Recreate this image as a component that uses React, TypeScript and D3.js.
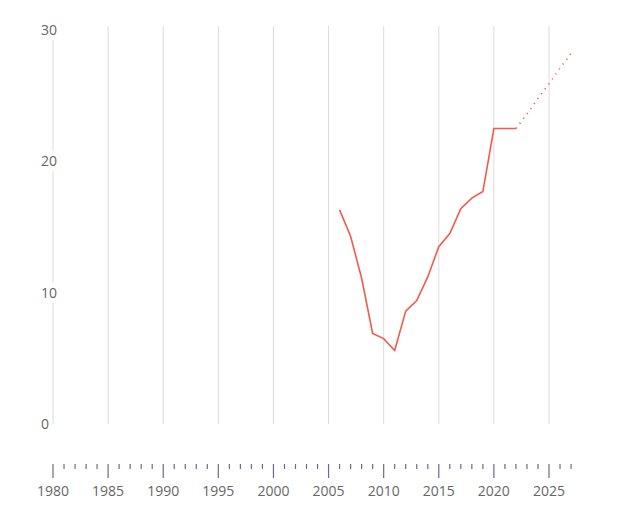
import React from "react";
import * as d3 from "d3";

const years = [2006, 2007, 2008, 2009, 2010, 2011, 2012, 2013, 2014, 2015, 2016, 2017, 2018, 2019, 2020, 2021, 2022];
const values = [16.3, 14.3, 11.1, 6.9, 6.5, 5.6, 8.6, 9.4, 11.2, 13.5, 14.5, 16.4, 17.2, 17.7, 22.5, 22.5, 22.5];
const projYears = [2022, 2023, 2024, 2025, 2026, 2027];
const projValues = [22.5, 23.6, 24.8, 25.9, 27.1, 28.2];
const yTicks = [0, 10, 20, 30];
const xLabelYears = [1980, 1985, 1990, 1995, 2000, 2005, 2010, 2015, 2020, 2025];

export default function App() {
  const W = 643, H = 508;
  const x = d3.scaleLinear().domain([1980, 2025]).range([53, 549]);
  const y = d3.scaleLinear().domain([0, 30]).range([424, 30]);
  const line = d3.line<[number, number]>().x(d => x(d[0])).y(d => y(d[1]));
  const actual = years.map((yr, i) => [yr, values[i]] as [number, number]);
  const proj = projYears.map((yr, i) => [yr, projValues[i]] as [number, number]);
  const allYears = d3.range(1980, 2028);
  const font = "'Open Sans', sans-serif";
  return (
    <svg width={W} height={H} style={{ position: "absolute", left: 0, top: 0 }}>
      {xLabelYears.map(yr => (
        <line key={"g" + yr} x1={x(yr)} x2={x(yr)} y1={26} y2={y(0)} stroke="#dcdcdc" strokeWidth={1} />
      ))}
      {yTicks.map(t => (
        <g key={"y" + t}>
          <rect x={40} y={y(t) - 10} width={t >= 10 ? 20 : 11} height={20} fill="#fff" />
          <text x={41} y={y(t)} dy="0.35em" fontFamily={font} fontSize={14} fill="#666">{t}</text>
        </g>
      ))}
      <path d={line(actual) || ""} fill="none" stroke="#f4594b" strokeWidth={1.6} />
      <path d={line(proj) || ""} fill="none" stroke="#f4594b" strokeWidth={1.6} strokeDasharray="1.2,4.9" />
      {allYears.map(yr => (
        <line key={"t" + yr} x1={x(yr)} x2={x(yr)} y1={464} y2={yr % 5 === 0 ? 478 : 469} stroke="#6a6a8c" strokeWidth={1.2} />
      ))}
      {xLabelYears.map(yr => (
        <text key={"l" + yr} x={x(yr)} y={491} dy="0.35em" textAnchor="middle" fontFamily={font} fontSize={14} fill="#666">{yr}</text>
      ))}
    </svg>
  );
}
